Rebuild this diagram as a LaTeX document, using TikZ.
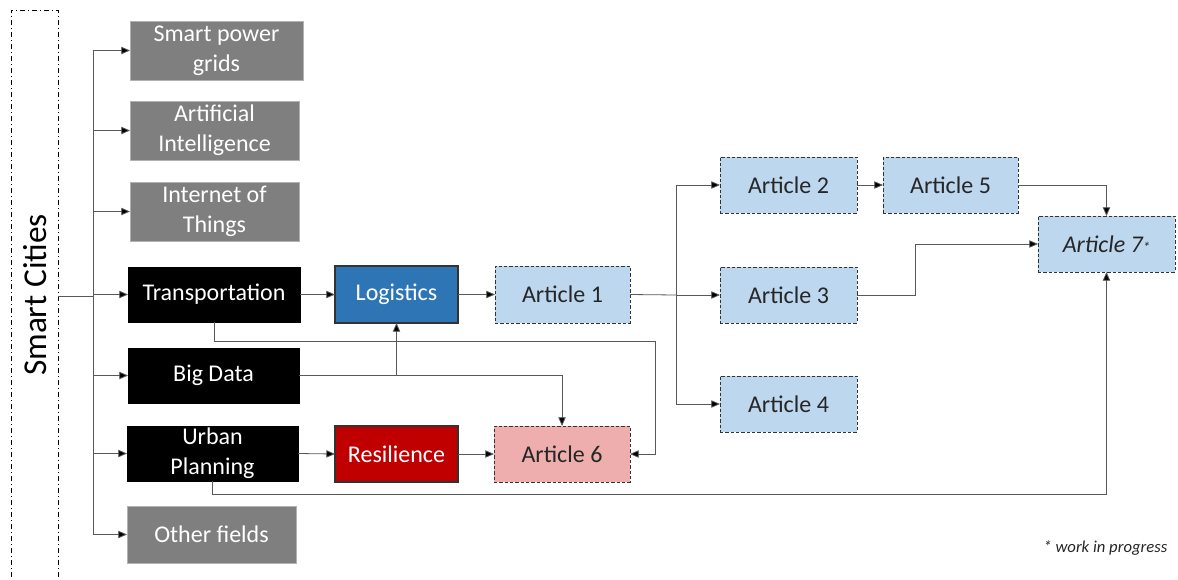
\documentclass[tikz,border=0pt]{standalone}
\usepackage{fontspec}
\setmainfont{Carlito}
\usetikzlibrary{arrows.meta,calc}
\definecolor{gbox}{HTML}{7F7F7F}
\definecolor{bluebox}{HTML}{2E75B6}
\definecolor{lightblue}{HTML}{BDD7EE}
\definecolor{redbox}{HTML}{C00000}
\definecolor{pinkbox}{HTML}{EDAEAD}
\definecolor{linec}{HTML}{595959}
\newcommand\mybox[7]{\node[#6, minimum width={(#4-#2)*0.75pt}, minimum height={(#5-#3)*0.75pt}] (#1) at ({(#2+#4)/2},{(#3+#5)/2}) {#7};}
\tikzset{
  base/.style={inner sep=0pt, outer sep=0pt, align=center, font=\fontsize{18}{22.5}\selectfont},
  graybox/.style={base, fill=gbox, draw=gray!60, line width=0.4pt, text=white},
  blackbox/.style={base, fill=black, draw=black, text=white},
  logbox/.style={base, fill=bluebox, draw=black!80, line width=0.8pt, text=white},
  resbox/.style={base, fill=redbox, draw=black!80, line width=0.8pt, text=white},
  artbox/.style={base, fill=lightblue, draw=black!80, dashed, dash pattern=on 2.5pt off 1.5pt, line width=0.7pt, text=black!85},
  art6box/.style={artbox, fill=pinkbox},
  conn/.style={draw=linec, line width=0.6pt},
  arr/.style={conn, -{Triangle[length=6.5pt,width=5.5pt,fill=black]}},
}
\begin{document}
\begin{tikzpicture}[x=0.75pt,y=-0.75pt]
\useasboundingbox (0,0) rectangle (1178,579);
% frame
\draw[black, line width=0.6pt, dash pattern=on 4pt off 2pt on 1pt off 2pt] (11,577) -- (11,10) -- (58,10) -- (58,577);
\node[rotate=90, font=\fontsize{25}{30}\selectfont] (sc) at (35,295) {Smart Cities};
\coordinate (sce) at (58,296);
\coordinate (t) at (93,296);
% left column
\mybox{spg}{130}{21}{303}{80}{graybox}{Smart power\\grids}
\mybox{ai}{130}{101}{299}{160}{graybox}{Artificial\\Intelligence}
\mybox{iot}{130}{182}{299}{241}{graybox}{Internet of\\Things}
\mybox{tr}{128}{267}{300}{322}{blackbox}{Transportation}
\mybox{bd}{128}{348}{299}{403}{blackbox}{Big Data}
\mybox{up}{127}{426}{298}{481}{blackbox}{Urban\\Planning}
\mybox{of}{127}{506}{296}{563}{graybox}{Other fields}
% middle
\mybox{log}{335}{266}{458}{323}{logbox}{Logistics}
\mybox{res}{335}{426}{458}{482}{resbox}{Resilience}
\mybox{a1}{495}{266}{630}{323}{artbox}{Article 1}
\mybox{a6}{494}{426}{630}{482}{art6box}{Article 6}
% right
\mybox{a2}{720}{157}{857}{213}{artbox}{Article 2}
\mybox{a5}{883}{157}{1018}{213}{artbox}{Article 5}
\mybox{a3}{720}{267}{857}{323}{artbox}{Article 3}
\mybox{a4}{720}{376}{857}{432}{artbox}{Article 4}
\mybox{a7}{1038}{216}{1175}{272}{artbox}{\itshape Article 7{\fontsize{11}{11}\selectfont *}}
\node[anchor=east, font=\itshape\fontsize{12.5}{14}\selectfont, text=black!85] (wip) at (1172,548) {* work in progress};
% trunk
\draw[conn] (sce) -- (t);
\draw[conn] (t |- spg.west) -- (t |- of.west);
\foreach \n in {spg,ai,iot,tr,bd,up,of}{
  \draw[arr] (t |- \n.west) -- (\n.west);
}
% flows
\draw[arr] (tr.east) -- (log.west);
\draw[arr] (log.east) -- (a1.east -| a1.west);
\coordinate (b) at (676,295);
\draw[conn] (a1.east) -- (b);
\draw[conn] (b |- a2.west) -- (b |- a4.west);
\draw[arr] (b |- a2.west) -- (a2.west);
\draw[arr] (b |- a3.west) -- (a3.west);
\draw[arr] (b |- a4.west) -- (a4.west);
\draw[arr] (a2.east) -- (a5.west);
\draw[arr] (a5.east) -| (a7.north);
\draw[arr] (a3.east) -- ++(58,0) |- (a7.west);
\draw[arr] (tr.south) -- ++(0,19) -| ($(a6.east)+(25,0)$) -- (a6.east);
\draw[arr] (bd.east) -| (a6.north);
\draw[arr] (log.south |- bd.east) -- (log.south);
\draw[arr] (up.east) -- (res.west);
\draw[arr] (res.east) -- (a6.west);
\draw[arr] (up.south) -- ++(0,13) -| (a7.south);
\end{tikzpicture}
\end{document}
